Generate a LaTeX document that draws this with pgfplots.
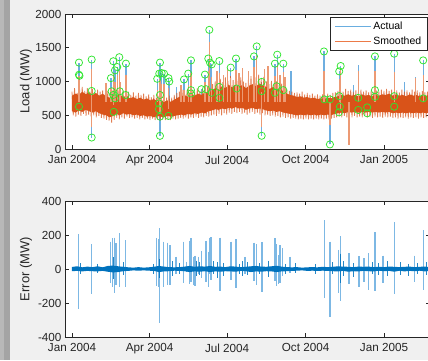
\documentclass[border=0pt]{standalone}
\usepackage{fontspec}
\setmainfont{Liberation Sans}
\usepackage{pgfplots}
\pgfplotsset{compat=1.18}
\definecolor{figbg}{HTML}{F0F0F0}
\definecolor{stripA}{HTML}{B8B8B8}
\definecolor{stripB}{HTML}{A4A4A4}
\definecolor{axgray}{HTML}{262626}
\definecolor{mblue}{HTML}{0072BD}
\definecolor{morange}{HTML}{D95319}
\definecolor{mgreen}{HTML}{30E630}
\definecolor{legblue}{HTML}{6AAEE0}
\definecolor{legorange}{HTML}{EC7A48}
\definecolor{spkblue}{HTML}{6EAEE0}
\definecolor{spkorange}{HTML}{EC9A74}
\definecolor{errblue}{HTML}{7DB8E4}
\pgfplotsset{
  mataxis/.style={
    scale only axis, width=365pt,
    xmin=-8.2, xmax=420,
    xtick={0,91,182,274,366},
    xticklabels={Jan 2004, Apr 2004, Jul 2004, Oct 2004, Jan 2005},
    axis background/.style={fill=white},
    axis line style={axgray, line width=0.6pt},
    every tick/.style={axgray, line width=0.6pt},
    major tick length=4pt,
    tick label style={font=\fontsize{11.7}{13}\selectfont, text=axgray},
    xticklabel style={yshift=-3pt},
    /pgf/number format/assume math mode=true,
    /pgf/number format/1000 sep={},
    label style={font=\fontsize{13}{15}\selectfont, text=axgray},
    ylabel style={at={(axis description cs:-0.1068,0.5)}, anchor=center},
    unbounded coords=jump,
    clip=true,
  }
}
\begin{document}
\begin{tikzpicture}
\useasboundingbox (0,0) rectangle (428pt,360pt);
\fill[figbg] (0,0) rectangle (428pt,360pt);
\fill[stripA] (0,0) rectangle (4pt,360pt);
\fill[stripB] (4pt,0) rectangle (10pt,360pt);

% ---------------- top axis ----------------
\begin{axis}[mataxis,
  at={(65pt,211pt)}, anchor=south west, height=135pt,
  ymin=0, ymax=2000, ytick={0,500,1000,1500,2000},
  ylabel={Load (MW)},
  legend style={at={(rel axis cs:0.9945,0.9756)}, anchor=north east,
    draw=axgray, line width=0.6pt, fill=white,
    font=\fontsize{10.5}{11}\selectfont, text=black,
    inner xsep=5pt, inner ysep=3pt, row sep=2.5pt,
    nodes={inner sep=1.5pt}},
  legend cell align=left,
]
\addlegendimage{legend image code/.code={\draw[draw=legblue, line width=1pt] (0pt,0pt) -- (36pt,0pt);}}
\addlegendentry{Actual}
\addlegendimage{legend image code/.code={\draw[draw=legorange, line width=1pt] (0pt,0pt) -- (36pt,0pt);}}
\addlegendentry{Smoothed}

% Actual: outlier spikes
\addplot[forget plot, spkblue, line width=1.2pt] coordinates {
(8.2,650) (8.2,1280) (8.2,nan)
(23.1,170) (23.1,1325) (23.1,nan)
(45.7,650) (45.7,1050) (45.7,nan)
(48.4,550) (48.4,1300) (48.4,nan)
(50.4,650) (50.4,1165) (50.4,nan)
(53.1,650) (53.1,1215) (53.1,nan)
(55.5,650) (55.5,1360) (55.5,nan)
(63.3,650) (63.3,1265) (63.3,nan)
(100,650) (100,1040) (100,nan)
(102.4,590) (102.4,1117) (102.4,nan)
(103.2,195) (103.2,1280) (103.2,nan)
(105.2,650) (105.2,1125) (105.2,nan)
(108,650) (108,1115) (108,nan)
(113.2,490) (113.2,1050) (113.2,nan)
(114.1,650) (114.1,1000) (114.1,nan)
(123,650) (123,920) (123,nan)
(131.4,650) (131.4,1030) (131.4,nan)
(136.4,650) (136.4,1117) (136.4,nan)
(139.6,650) (139.6,1313) (139.6,nan)
(151.9,650) (151.9,886) (151.9,nan)
(156,650) (156,1102) (156,nan)
(159.9,650) (159.9,1340) (159.9,nan)
(161.1,650) (161.1,1765) (161.1,nan)
(161.9,650) (161.9,1280) (161.9,nan)
(163.9,650) (163.9,1254) (163.9,nan)
(172.8,650) (172.8,1303) (172.8,nan)
(186.2,650) (186.2,1206) (186.2,nan)
(192.4,650) (192.4,1340) (192.4,nan)
(213.5,650) (213.5,1372) (213.5,nan)
(216.7,650) (216.7,1520) (216.7,nan)
(222.5,196) (222.5,994) (222.5,nan)
(238.1,650) (238.1,1264) (238.1,nan)
(240.8,650) (240.8,1397) (240.8,nan)
(247.9,650) (247.9,1264) (247.9,nan)
(257,650) (257,1160) (257,nan)
(295.6,650) (295.6,1445) (295.6,nan)
(302.6,68) (302.6,735) (302.6,nan)
(313.5,650) (313.5,1150) (313.5,nan)
(315.2,544) (315.2,1230) (315.2,nan)
(330,650) (330,950) (330,nan)
(336,650) (336,1250) (336,nan)
(355.4,650) (355.4,1372) (355.4,nan)
(378,650) (378,1412) (378,nan)
(390,650) (390,1000) (390,nan)
(403,650) (403,1060) (403,nan)
(412,650) (412,1313)
};

% Smoothed: daily swing (zigzag between daily peaks and troughs)
\addplot[forget plot, morange, opacity=0.75, line width=0.8pt] coordinates {
(0,850) (1.5,500) (3,900) (4.5,480) (6,830) (7.5,510) (9,880) (10.5,490) (12,920) (13.5,520)
(15,860) (16.5,490) (18,900) (19.5,510) (21,850) (22.5,480) (24,890) (25.5,500) (27,840) (28.5,470)
(30,880) (31.5,490) (33,850) (34.5,460) (36,870) (37.5,450) (39,820) (40.5,430) (42,860) (43.5,420)
(45,830) (46.5,390) (48,870) (49.5,430) (51,840) (52.5,460) (54,880) (55.5,440) (57,830) (58.5,470)
(60,860) (61.5,450) (63,820) (64.5,480) (66,850) (67.5,460) (69,800) (70.5,470) (72,840) (73.5,450)
(75,790) (76.5,460) (78,830) (79.5,440) (81,800) (82.5,460) (84,820) (85.5,440) (87,780) (88.5,450)
(90,810) (91.5,430) (93,770) (94.5,450) (96,800) (97.5,430) (99,760) (100.5,440) (102,790) (103.5,420)
(105,750) (106.5,440) (108,780) (109.5,430) (111,760) (112.5,440) (114,790) (115.5,430) (117,760) (118.5,450)
(120,800) (121.5,440) (123,830) (124.5,450) (126,850) (127.5,460) (129,880) (130.5,450) (132,840) (133.5,470)
(135,870) (136.5,450) (138,830) (139.5,470) (141,880) (142.5,460) (144,850) (145.5,480) (147,900) (148.5,460)
(150,860) (151.5,480) (153,890) (154.5,470) (156,870) (157.5,490) (159,920) (160.5,480) (162,900) (163.5,500)
(165,960) (166.5,510) (168,1000) (169.5,490) (171,960) (172.5,520) (174,1040) (175.5,500) (177,990) (178.5,530)
(180,1060) (181.5,510) (183,1010) (184.5,540) (186,1080) (187.5,520) (189,1020) (190.5,550) (192,1100) (193.5,530)
(195,1030) (196.5,550) (198,1060) (199.5,520) (201,1000) (202.5,540) (204,980) (205.5,510) (207,1040) (208.5,530)
(210,1080) (211.5,550) (213,1020) (214.5,520) (216,1060) (217.5,540) (219,1100) (220.5,510) (222,1040) (223.5,530)
(225,1070) (226.5,500) (228,1000) (229.5,510) (231,960) (232.5,490) (234,1010) (235.5,500) (237,960) (238.5,480)
(240,1000) (241.5,490) (243,950) (244.5,470) (246,970) (247.5,480) (249,910) (250.5,460) (252,880) (253.5,470)
(255,860) (256.5,450) (258,850) (259.5,460) (261,830) (262.5,450) (264,840) (265.5,440) (267,820) (268.5,450)
(270,850) (271.5,440) (273,810) (274.5,450) (276,830) (277.5,440) (279,800) (280.5,450) (282,820) (283.5,440)
(285,790) (286.5,450) (288,810) (289.5,440) (291,790) (292.5,450) (294,810) (295.5,440) (297,790) (298.5,450)
(300,820) (301.5,440) (303,800) (304.5,450) (306,830) (307.5,460) (309,840) (310.5,470) (312,860) (313.5,480)
(315,880) (316.5,470) (318,850) (319.5,490) (321,890) (322.5,470) (324,860) (325.5,490) (327,880) (328.5,470)
(330,850) (331.5,490) (333,870) (334.5,470) (336,840) (337.5,480) (339,880) (340.5,470) (342,850) (343.5,490)
(345,870) (346.5,470) (348,840) (349.5,480) (351,860) (352.5,460) (354,840) (355.5,480) (357,870) (358.5,470)
(360,850) (361.5,480) (363,880) (364.5,460) (366,860) (367.5,480) (369,890) (370.5,470) (372,860) (373.5,480)
(375,880) (376.5,460) (378,850) (379.5,470) (381,870) (382.5,450) (384,840) (385.5,470) (387,880) (388.5,460)
(390,850) (391.5,470) (393,870) (394.5,450) (396,840) (397.5,470) (399,880) (400.5,460) (402,850) (403.5,470)
(405,870) (406.5,450) (408,840) (409.5,470) (411,860) (412.5,460) (414,840) (415.5,470) (417,850) (418.5,460)
};

% Smoothed: solid core of the band
\addplot[forget plot, draw=none, fill=morange] coordinates {
(0,790) (4,820) (8,800) (12,850) (16,810) (20,840) (24,800) (28,830) (32,790) (36,820)
(40,780) (44,760) (48,800) (52,780) (56,810) (60,770) (64,790) (68,750) (72,770) (76,740)
(80,760) (84,730) (88,750) (92,720) (96,740) (100,710) (104,730) (108,700) (112,720) (116,700)
(120,730) (124,760) (128,780) (132,800) (136,770) (140,810) (144,790) (148,820) (152,800) (156,840)
(160,820) (164,870) (168,900) (172,880) (176,930) (180,900) (184,950) (188,910) (192,960) (196,920)
(200,950) (204,900) (208,940) (212,960) (216,930) (220,970) (224,940) (228,920) (232,890) (236,920)
(240,880) (244,900) (248,850) (252,820) (256,800) (260,790) (264,770) (268,780) (272,760) (276,770)
(280,750) (284,760) (288,740) (292,750) (296,740) (300,760) (304,750) (308,770) (312,780) (316,800)
(320,790) (324,810) (328,790) (332,800) (336,780) (340,810) (344,790) (348,800) (352,780) (356,800)
(360,790) (364,810) (368,800) (372,820) (376,790) (380,810) (384,790) (388,800) (392,780) (396,810)
(400,790) (404,800) (408,780) (412,800) (416,790) (418.5,800)
(418.5,540) (416,530) (412,540) (408,530) (404,540) (400,530) (396,540) (392,530) (388,540) (384,530)
(380,540) (376,530) (372,550) (368,540) (364,550) (360,540) (356,550) (352,540) (348,550) (344,540)
(340,550) (336,540) (332,550) (328,540) (324,550) (320,530) (316,540) (312,530) (308,520) (304,500)
(300,510) (296,500) (292,510) (288,500) (284,510) (280,500) (276,510) (272,500) (268,510) (264,500)
(260,510) (256,520) (252,530) (248,540) (244,560) (240,550) (236,570) (232,560) (228,570) (224,590)
(220,600) (216,590) (212,610) (208,600) (204,580) (200,610) (196,600) (192,620) (188,600) (184,610)
(180,590) (176,600) (172,580) (168,590) (164,570) (160,560) (156,530) (152,540) (148,520) (144,530)
(140,510) (136,520) (132,500) (128,510) (124,500) (120,490) (116,480) (112,490) (108,470) (104,480)
(100,490) (96,470) (92,490) (88,480) (84,500) (80,490) (76,510) (72,500) (68,520) (64,510)
(60,530) (56,500) (52,520) (48,490) (44,470) (40,500) (36,510) (32,530) (28,560) (24,540)
(20,560) (16,580) (12,550) (8,570) (4,540) (0,560)
};

% Smoothed: spikes
\addplot[forget plot, spkorange, line width=1.2pt] coordinates {
(8.2,700) (8.2,1080) (8.2,nan)
(23.1,320) (23.1,1180) (23.1,nan)
(40,700) (40,980) (40,nan)
(45.7,700) (45.7,900) (45.7,nan)
(48.4,650) (48.4,1120) (48.4,nan)
(50.4,700) (50.4,1000) (50.4,nan)
(53.1,700) (53.1,1100) (53.1,nan)
(55.5,700) (55.5,1150) (55.5,nan)
(57,700) (57,1000) (57,nan)
(63.3,700) (63.3,1100) (63.3,nan)
(100,700) (100,880) (100,nan)
(102.4,600) (102.4,950) (102.4,nan)
(103.2,515) (103.2,1040) (103.2,nan)
(105.2,700) (105.2,970) (105.2,nan)
(108,700) (108,960) (108,nan)
(113.2,600) (113.2,900) (113.2,nan)
(128,700) (128,950) (128,nan)
(131.4,700) (131.4,870) (131.4,nan)
(136.4,700) (136.4,950) (136.4,nan)
(139.6,700) (139.6,1130) (139.6,nan)
(156,700) (156,1000) (156,nan)
(159.9,700) (159.9,1160) (159.9,nan)
(161.1,700) (161.1,1580) (161.1,nan)
(163.9,700) (163.9,1070) (163.9,nan)
(170,700) (170,1150) (170,nan)
(172.8,700) (172.8,1120) (172.8,nan)
(178,700) (178,1100) (178,nan)
(182,700) (182,1180) (182,nan)
(186.2,700) (186.2,1045) (186.2,nan)
(192.4,700) (192.4,1165) (192.4,nan)
(196,700) (196,1120) (196,nan)
(200,700) (200,1200) (200,nan)
(207,700) (207,1150) (207,nan)
(213.5,700) (213.5,1220) (213.5,nan)
(216.7,700) (216.7,1375) (216.7,nan)
(222.5,330) (222.5,840) (222.5,nan)
(226,700) (226,1180) (226,nan)
(230,700) (230,1230) (230,nan)
(238.1,700) (238.1,1085) (238.1,nan)
(240.8,700) (240.8,1250) (240.8,nan)
(244,700) (244,1100) (244,nan)
(247.9,700) (247.9,1140) (247.9,nan)
(250,700) (250,1060) (250,nan)
(295.6,700) (295.6,1160) (295.6,nan)
(302.6,350) (302.6,700) (302.6,nan)
(313.5,700) (313.5,1040) (313.5,nan)
(315.2,600) (315.2,1200) (315.2,nan)
(325,60) (325,700) (325,nan)
(336,700) (336,1150) (336,nan)
(355.4,700) (355.4,1160) (355.4,nan)
(378,700) (378,1140) (378,nan)
(403,700) (403,1050) (403,nan)
(412,700) (412,1090)
};

% Outliers
\addplot[forget plot, only marks, mark=o, mark size=3.6pt, mgreen, line width=0.75pt] coordinates {
(8.2,1280) (8.2,1100) (8.8,1085) (8.2,627) (23.1,1325) (23.1,860) (23.1,170)
(45.7,1050) (46.5,855) (48.4,1300) (48.4,800) (50.4,1165) (50.4,750) (49,550)
(53.1,1215) (55.5,1360) (56,855) (63.3,1265) (63,800)
(100,1040) (102.4,1117) (105.2,1125) (108,1115) (103.2,1280) (103.2,800) (102,675)
(102,590) (103.2,480) (103.2,195) (113.2,490) (113.2,1050) (114.1,1000)
(131.4,1030) (136.4,1117) (139.6,1313) (139.6,872) (139.6,823) (151.9,886) (156,1102)
(157.2,886) (161.1,1765) (159.9,1340) (161.9,1280) (163.9,1254) (163.9,833)
(172.8,1303) (172.8,920) (172.8,758) (186.2,1206) (192.4,1340) (193.1,896)
(213.5,1372) (216.7,1520) (222.5,994) (222.5,857) (222.5,196)
(238.1,1264) (240.8,1397) (247.9,1264) (240,930) (238.1,833) (247.9,872)
(295.6,1445) (296,735) (302.6,735) (302.6,68) (313.5,1150) (315.2,1230) (313.5,783)
(314.3,627) (313.2,544) (335.8,758) (335.8,578) (346.3,617) (346.3,529)
(355.4,1372) (355.4,872) (355.4,773) (378,1412) (378,783) (378,627) (412,1313) (412,750)
};
\end{axis}

% ---------------- bottom axis ----------------
\begin{axis}[mataxis,
  at={(65pt,23pt)}, anchor=south west, height=136pt,
  ymin=-400, ymax=400, ytick={-400,-200,0,200,400},
  ylabel={Error (MW)},
]
% error spikes
\addplot[errblue, line width=1.3pt] coordinates {
(7.4,204) (7.4,-237) (7.4,nan)
(23,145) (23,-149) (23,nan)
(45.4,161) (45.4,-80) (45.4,nan)
(47.7,180) (47.7,-104) (47.7,nan)
(49.6,184) (49.6,-143) (49.6,nan)
(51.6,151) (51.6,-94) (51.6,nan)
(55.5,210) (55.5,-104) (55.5,nan)
(63,170) (63,-104) (63,nan)
(99,180) (99,-98) (99,nan)
(101.9,176) (101.9,-104) (101.9,nan)
(103,239) (103,-320) (103,nan)
(107,161) (107,-104) (107,nan)
(111.8,155) (111.8,-94) (111.8,nan)
(115,141) (115,-94) (115,nan)
(122,72) (122,-30) (122,nan)
(131,161) (131,-84) (131,nan)
(134,43) (134,-20) (134,nan)
(137.6,165) (137.6,-90) (137.6,nan)
(139.6,180) (139.6,-75) (139.6,nan)
(142.4,72) (142.4,-94) (142.4,nan)
(144.4,78) (144.4,-98) (144.4,nan)
(148.3,72) (148.3,-30) (148.3,nan)
(152.2,106) (152.2,-55) (152.2,nan)
(157.2,165) (157.2,-75) (157.2,nan)
(159.9,102) (159.9,-104) (159.9,nan)
(161.1,184) (161.1,-30) (161.1,nan)
(163.1,186) (163.1,-65) (163.1,nan)
(173.6,184) (173.6,-129) (173.6,nan)
(186.5,161) (186.5,-65) (186.5,nan)
(192.4,176) (192.4,-110) (192.4,nan)
(203,72) (203,-30) (203,nan)
(213.5,155) (213.5,-71) (213.5,nan)
(216.6,145) (216.6,-94) (216.6,nan)
(223,157) (223,-137) (223,nan)
(238,180) (238,-71) (238,nan)
(240,145) (240,-98) (240,nan)
(242.4,82) (242.4,-90) (242.4,nan)
(244,141) (244,-84) (244,nan)
(247.1,122) (247.1,-40) (247.1,nan)
(255.7,72) (255.7,-25) (255.7,nan)
(296,288) (296,-169) (296,nan)
(302.6,161) (302.6,-280) (302.6,nan)
(313,112) (313,-143) (313,nan)
(314.7,194) (314.7,-188) (314.7,nan)
(325,92) (325,-90) (325,nan)
(336.6,76) (336.6,-104) (336.6,nan)
(342.5,63) (342.5,-75) (342.5,nan)
(347.6,92) (347.6,-124) (347.6,nan)
(355.4,216) (355.4,-129) (355.4,nan)
(365,78) (365,-84) (365,nan)
(378,275) (378,-149) (378,nan)
(402,78) (402,-75) (402,nan)
(412,229) (412,-124)
};
% small dark spikes
\addplot[mblue, opacity=0.85, line width=0.8pt] coordinates {
(10,35) (10,-30) (10,nan) (30,30) (30,-25) (30,nan) (49,70) (49,-60) (49,nan)
(60,40) (60,-35) (60,nan) (95,30) (95,-30) (95,nan) (103,60) (103,-50) (103,nan)
(118,45) (118,-40) (118,nan) (126,35) (126,-30) (126,nan) (146,50) (146,-40) (146,nan)
(150,40) (150,-35) (150,nan) (166,45) (166,-30) (166,nan) (170,40) (170,-50) (170,nan)
(178,35) (178,-40) (178,nan) (196,30) (196,-30) (196,nan) (200,45) (200,-40) (200,nan)
(206,40) (206,-35) (206,nan) (220,35) (220,-30) (220,nan) (230,50) (230,-45) (230,nan)
(250,30) (250,-30) (250,nan) (262,35) (262,-25) (262,nan) (285,30) (285,-30) (285,nan)
(305,40) (305,-30) (305,nan) (314.7,90) (314.7,-80) (314.7,nan) (318,45) (318,-40) (318,nan)
(330,35) (330,-45) (330,nan) (352,40) (352,-30) (352,nan) (360,35) (360,-35) (360,nan)
(370,45) (370,-40) (370,nan) (385,40) (385,-35) (385,nan) (395,30) (395,-40) (395,nan)
(405,35) (405,-30) (405,nan) (416,40) (416,-35)
};
% central noise band
\addplot[draw=none, fill=mblue] coordinates {
(0,12) (6,16) (12,10) (18,14) (24,11) (30,16) (36,10) (42,18) (48,20) (54,16)
(60,13) (66,10) (72,8) (78,11) (84,8) (90,10) (96,13) (102,18) (108,14) (114,11)
(120,10) (126,11) (132,14) (138,18) (144,13) (150,16) (156,14) (162,18) (168,13) (174,14)
(180,11) (186,16) (192,14) (198,11) (204,13) (210,16) (216,18) (222,14) (228,13) (234,16)
(240,19) (246,14) (252,11) (258,10) (264,11) (270,8) (276,10) (282,11) (288,10) (294,13)
(300,11) (306,13) (312,16) (318,14) (324,13) (330,11) (336,14) (342,13) (348,14) (354,11)
(360,13) (366,11) (372,14) (378,13) (384,11) (390,13) (396,14) (402,11) (408,13) (414,14) (419,11)
(419,-11) (414,-14) (408,-10) (402,-13) (396,-11) (390,-14) (384,-10) (378,-16) (372,-11) (366,-13)
(360,-10) (354,-14) (348,-13) (342,-11) (336,-14) (330,-13) (324,-16) (318,-11) (312,-14) (306,-13)
(300,-11) (294,-10) (288,-11) (282,-10) (276,-11) (270,-8) (264,-10) (258,-11) (252,-13) (246,-14)
(240,-18) (234,-14) (228,-13) (222,-16) (216,-14) (210,-18) (204,-13) (198,-11) (192,-16) (186,-14)
(180,-13) (174,-16) (168,-14) (162,-18) (156,-13) (150,-16) (144,-14) (138,-18) (132,-13) (126,-11)
(120,-10) (114,-13) (108,-14) (102,-18) (96,-11) (90,-10) (84,-8) (78,-10) (72,-8) (66,-11)
(60,-13) (54,-18) (48,-20) (42,-16) (36,-11) (30,-14) (24,-13) (18,-11) (12,-14) (6,-11) (0,-13)
};
\end{axis}
\end{tikzpicture}
\end{document}
